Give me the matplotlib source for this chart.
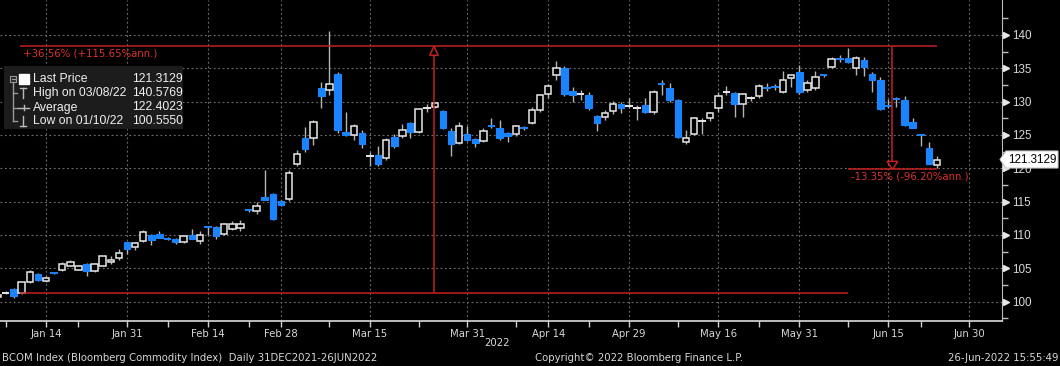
import numpy as np
import pandas as pd
import matplotlib
matplotlib.use('Agg')
import matplotlib.pyplot as plt
from matplotlib.patches import Rectangle, Polygon
from matplotlib.lines import Line2D
from matplotlib.transforms import Affine2D, blended_transform_factory
from matplotlib import font_manager

# ---------------- data ----------------
holidays = ['2022-01-17', '2022-02-21', '2022-04-15', '2022-05-30', '2022-06-20']
dates = pd.bdate_range('2022-01-06', '2022-06-24', freq='C', holidays=holidays)
future_dates = pd.bdate_range('2022-06-27', '2022-06-30')

opens = [100.7, 101.3, 101.9, 101.3, 102.9, 104.1, 103.15,
         104.35, 104.8, 105.4, 104.8, 105.6, 104.6, 105.4, 105.9, 106.6, 108.9,
         108.2, 109.1, 110.0, 110.2, 109.5, 109.45, 108.9, 110.0, 109.1, 111.25, 111.2, 110.15, 110.9, 111.1,
         113.75, 113.6, 115.7, 116.1, 115.1,
         115.4, 120.7, 124.5, 124.6, 132.1, 131.7, 134.1, 125.4, 125.0, 125.3, 121.7, 122.0, 121.5, 124.7,
         124.9, 126.8, 125.5, 129.0, 129.2, 128.6, 125.6, 123.8, 125.1,
         124.4, 124.1, 126.4, 126.0, 125.3, 125.1, 126.05, 126.8, 128.7, 131.1, 134.0, 135.1, 131.6, 131.1,
         131.0, 127.8, 127.7, 128.6, 129.7, 129.35,
         128.95, 129.5, 128.4, 132.7, 132.1, 130.2, 124.0, 125.2, 127.0, 127.5, 129.1, 131.4, 131.3, 129.6,
         130.45, 130.8, 132.05, 132.25, 131.5, 133.6, 134.5,
         131.7, 132.0, 134.05, 135.2, 136.45, 136.6, 135.0, 136.2, 134.2, 133.2, 129.45, 130.45, 130.2,
         127.0, 125.0, 123.0, 120.55]
highs = [101.2, 101.6, 102.0, 103.0, 104.7, 104.3, 103.9,
         104.5, 106.0, 106.3, 105.5, 105.8, 105.8, 106.9, 106.9, 107.9, 109.0,
         109.0, 110.8, 110.1, 110.6, 109.7, 109.5, 109.9, 110.9, 110.6, 111.3, 111.3, 111.8, 112.1, 112.3,
         113.9, 114.9, 119.7, 116.3, 115.3,
         119.8, 122.8, 126.2, 127.2, 132.9, 140.5769, 134.4, 128.5, 126.7, 125.8, 122.5, 123.4, 124.5, 125.2,
         126.7, 127.0, 129.0, 129.7, 130.0, 128.7, 126.1, 126.9, 126.3,
         124.6, 126.1, 127.6, 127.2, 125.5, 126.5, 126.4, 129.2, 131.2, 132.6, 136.1, 135.3, 132.2, 131.7,
         131.5, 128.0, 128.8, 130.1, 130.0, 130.6,
         129.5, 130.6, 131.7, 133.3, 132.8, 130.4, 125.8, 127.7, 127.6, 128.5, 131.5, 132.3, 131.5, 131.3,
         130.9, 132.6, 132.8, 132.6, 134.6, 134.2, 135.5,
         133.2, 134.6, 134.2, 136.7, 137.0, 138.0, 136.8, 136.7, 134.4, 133.7, 130.4, 130.7, 130.9,
         127.6, 125.1, 123.9, 121.8]
lows = [100.6, 101.2, 100.555, 101.2, 102.8, 103.1, 103.0,
        104.1, 104.6, 105.3, 104.7, 103.8, 104.5, 105.3, 105.7, 106.2, 107.1,
        107.8, 109.0, 108.5, 109.5, 109.3, 108.7, 108.8, 109.4, 108.7, 110.0, 109.45, 110.0, 110.8, 110.6,
        113.5, 113.1, 115.2, 112.2, 114.4,
        115.1, 120.3, 122.5, 123.5, 129.1, 131.0, 125.3, 124.8, 124.2, 123.0, 120.3, 120.3, 121.2, 123.1,
        124.6, 124.5, 125.3, 128.4, 129.0, 125.9, 121.8, 123.6, 124.1,
        123.2, 124.0, 126.0, 124.3, 124.0, 124.9, 125.7, 126.6, 128.5, 130.5, 133.3, 130.8, 130.0, 130.3,
        128.8, 125.6, 127.3, 128.1, 128.3, 129.0,
        127.3, 128.3, 128.2, 131.0, 130.0, 124.5, 123.6, 125.0, 125.1, 127.1, 128.5, 131.0, 127.7, 127.7,
        130.1, 130.6, 131.6, 131.8, 131.3, 132.2, 131.2,
        131.5, 131.8, 133.7, 135.0, 136.0, 135.8, 134.0, 133.8, 131.5, 128.8, 129.1, 129.2, 126.3,
        126.0, 123.4, 120.6, 120.0]
closes = [101.0, 101.4, 100.8, 102.9, 104.5, 103.2, 103.6,
          104.25, 105.6, 105.9, 105.4, 104.6, 105.7, 106.8, 106.2, 107.3, 107.9,
          108.8, 110.4, 109.3, 109.6, 109.4, 108.9, 109.8, 109.45, 110.0, 111.15, 109.8, 111.7, 111.6, 111.7,
          113.65, 114.4, 115.3, 112.35, 114.5,
          119.3, 122.1, 122.9, 127.0, 130.9, 132.6, 125.7, 125.0, 126.3, 123.7, 121.9, 120.6, 124.3, 123.4,
          125.7, 125.5, 128.9, 129.2, 129.8, 126.1, 123.6, 126.4, 124.3,
          123.8, 125.6, 126.2, 124.5, 124.9, 126.3, 125.95, 128.7, 131.0, 132.4, 135.0, 131.2, 131.0, 131.3,
          129.0, 126.8, 128.3, 129.7, 129.1, 129.45,
          129.05, 128.5, 131.5, 132.5, 130.2, 124.7, 124.6, 127.5, 127.2, 128.3, 130.8, 131.6, 129.6, 131.1,
          130.55, 132.3, 131.95, 132.15, 133.2, 134.0, 131.4,
          132.8, 133.7, 133.95, 136.35, 136.35, 135.9, 136.5, 135.2, 133.2, 128.9, 129.35, 130.35, 126.5,
          126.1, 124.85, 120.7, 121.3129]

tick_dates = ['2022-01-14', '2022-01-31', '2022-02-14', '2022-02-28', '2022-03-15', '2022-03-31',
              '2022-04-14', '2022-04-29', '2022-05-16', '2022-05-31', '2022-06-15', '2022-06-30']
tick_labels = ['Jan 14', 'Jan 31', 'Feb 14', 'Feb 28', 'Mar 15', 'Mar 31',
               'Apr 14', 'Apr 29', 'May 16', 'May 31', 'Jun 15', 'Jun 30']
minor_dates = ['2022-01-07', '2022-01-21', '2022-02-07', '2022-02-22', '2022-03-08', '2022-03-23',
               '2022-04-08', '2022-04-22', '2022-05-09', '2022-05-23', '2022-06-08', '2022-06-22']
y_ticks = [100, 105, 110, 115, 120, 125, 130, 135, 140]

legend_rows = [('Last Price', '121.3129'), ('High on 03/08/22', '140.5769'),
               ('Average', '122.4023'), ('Low on 01/10/22', '100.5550')]
base_level = 101.27
gain_pct = 36.56
drop_pct = 13.35
gain_text = '+36.56% (+115.65%ann.)'
drop_text = '-13.35% (-96.20%ann.)'

# ---------------- style ----------------
avail = {f.name for f in font_manager.fontManager.ttflist}
NARROW = 'Liberation Sans Narrow' if 'Liberation Sans Narrow' in avail else 'DejaVu Sans'
NSIZE = 9.3 if NARROW == 'Liberation Sans Narrow' else 7.3
REG = 'Liberation Sans' if 'Liberation Sans' in avail else 'DejaVu Sans'

BLUE = '#1a84ff'
WHITE = '#e8e8e8'
WICK = '#b4b4b4'
RED = '#c42121'
REDTXT = '#dc3232'
GRID = '#6e6e6e'
TXT = '#d8d8d8'

W_PX, H_PX = 1060, 366
fig = plt.figure(figsize=(W_PX / 100, H_PX / 100), dpi=100, facecolor='black')
ax_left, ax_right, ax_top, ax_bot = 0, 1002, 0, 321
ax = fig.add_axes([ax_left / W_PX, 1 - ax_bot / H_PX, (ax_right - ax_left) / W_PX, (ax_bot - ax_top) / H_PX])
ax.set_facecolor('black')

axis_dates = list(dates) + list(future_dates)
pos = {d: i for i, d in enumerate(axis_dates)}
x = np.arange(len(dates))

# y scale: 140 at px 35, 100 at px 301.5
ppu = (301.5 - 35) / 40.0
ax.set_ylim(100 - (ax_bot - 301.5) / ppu, 140 + (35 - ax_top) / ppu)
# x scale: Jan 14 at px 46, 8.1 px per trading day
i14 = pos[pd.Timestamp('2022-01-14')]
ax.set_xlim(i14 - 46 / 8.1, i14 + (ax_right - 46) / 8.1)

# candles
W = 0.8
for i, o, h, l, c in zip(x, opens, highs, lows, closes):
    up = c >= o
    ax.vlines(i, l, h, color=WICK, lw=1, zorder=2)
    lo, hi = min(o, c), max(o, c)
    if hi - lo < 0.25:
        ax.hlines((o + c) / 2, i - W / 2 - 0.08, i + W / 2 + 0.08, color=WHITE if up else BLUE, lw=1.4, zorder=3)
    elif up:
        ax.add_patch(Rectangle((i - W / 2, lo), W, hi - lo, facecolor='black', edgecolor=WHITE, lw=1.1, zorder=3))
    else:
        ax.add_patch(Rectangle((i - W / 2, lo), W, hi - lo, facecolor=BLUE, edgecolor=BLUE, lw=0.8, zorder=3))

# grid and axes
for s in ['top', 'left']:
    ax.spines[s].set_visible(False)
ax.spines['right'].set_color('#bdbdbd')
ax.spines['bottom'].set_color('#dcdcdc')
ax.spines['bottom'].set_linewidth(1.2)
ax.yaxis.tick_right()
ax.set_yticks(y_ticks)
ax.set_yticks(np.arange(97.5, 145, 5), minor=True)
ax.set_xticks([pos[pd.Timestamp(d)] for d in tick_dates])
ax.set_xticklabels(tick_labels)
ax.set_xticks([pos[pd.Timestamp(d)] for d in minor_dates], minor=True)
ax.tick_params(axis='y', which='major', length=0, pad=7.5, labelsize=8.4, labelcolor=TXT)
for t in ax.get_yticklabels():
    t.set_fontfamily(REG)
ax.tick_params(axis='y', which='minor', length=4, color='#bdbdbd', width=1)
ax.tick_params(axis='x', which='both', length=4, color='#cfcfcf', width=1, direction='out')
ax.tick_params(axis='x', which='major', labelsize=NSIZE, labelcolor=TXT, pad=1.5)
for t in ax.get_xticklabels():
    t.set_fontfamily(NARROW)
ax.grid(True, which='major', color=GRID, ls=(0, (1.6, 2.4)), lw=0.8, zorder=0)

# triangle tick markers on y axis
bt = blended_transform_factory(ax.transAxes, ax.transData)
ax.plot(np.full(len(y_ticks), 1 + 3.5 / (ax_right - ax_left)), y_ticks, transform=bt, ls='none',
        marker='>', markersize=4.5, color='#e6e6e6', mec='#e6e6e6', clip_on=False, zorder=5)

# red annotations
top_level = base_level * (1 + gain_pct / 100)
bot_level = top_level * (1 - drop_pct / 100)
va1 = pos[pd.Timestamp('2022-03-25')] - 0.1
va2 = pos[pd.Timestamp('2022-06-15')] + 0.5
i_start = pos[pd.Timestamp('2022-01-11')] - 0.15
i_jun8 = pos[pd.Timestamp('2022-06-08')]
i_last = len(dates) - 1
ax.hlines(base_level, i_start, i_jun8, color=RED, lw=1.1, zorder=4)
ax.hlines(top_level, i_start, i_last, color=RED, lw=1.1, zorder=4)
ax.hlines(bot_level, i_jun8, i_last, color=RED, lw=1.1, zorder=4)
th1 = 9 / ppu
ax.vlines(va1, base_level, top_level - th1, color=RED, lw=1.1, zorder=4)
ax.add_patch(Polygon([(va1 - 0.52, top_level - th1), (va1 + 0.52, top_level - th1), (va1, top_level)],
                     closed=True, facecolor='black', edgecolor=RED, lw=1.1, zorder=4))
th2 = 8 / ppu
ax.vlines(va2, bot_level + th2, top_level, color=RED, lw=1.1, zorder=4)
ax.add_patch(Polygon([(va2 - 0.66, bot_level + th2), (va2 + 0.66, bot_level + th2), (va2, bot_level)],
                     closed=True, facecolor='black', edgecolor=RED, lw=1.1, zorder=4))
ax.text(i_start + 0.35, top_level - 7 / ppu, gain_text, color=REDTXT, fontsize=NSIZE, family=NARROW,
        va='center', ha='left', zorder=6)
ax.text(i_jun8 + 0.4, bot_level - 7 / ppu, drop_text, color=REDTXT, fontsize=NSIZE, family=NARROW,
        va='center', ha='left', zorder=6)

# ---------------- overlays in pixel coordinates ----------------
pix = Affine2D().scale(1, -1).translate(0, H_PX)

# last price tag
last = closes[-1]
ly = H_PX - ax.transData.transform((0, last))[1]
tag = Polygon([(1000, ly), (1006, ly - 8.5), (1058, ly - 8.5), (1058, ly + 8.5), (1006, ly + 8.5)],
              closed=True, facecolor='white', edgecolor='#cccccc', lw=0.8, transform=pix, zorder=6)
fig.add_artist(tag)
fig.text(1008, ly + 0.5, f'{last:.4f}', transform=pix, color='black', fontsize=8.4, family=REG,
         va='center', ha='left', zorder=7)

# legend box
fig.add_artist(Rectangle((4, 66), 179, 63, transform=pix, facecolor='#1c1c1c', edgecolor='none', zorder=5))
rows_y = [79, 93, 107.5, 121]
for (name, val), ry in zip(legend_rows, rows_y):
    fig.text(33, ry, name, transform=pix, color='#f0f0f0', fontsize=8.8, family=REG, va='center', ha='left', zorder=7)
    fig.text(132, ry, val, transform=pix, color='#f0f0f0', fontsize=8.8, family=REG, va='center', ha='left', zorder=7)
LC = '#9a9a9a'


def pl(xs, ys, c=LC, lw=1.0):
    fig.add_artist(Line2D(xs, ys, transform=pix, color=c, lw=lw, zorder=6))


# collapse box
fig.add_artist(Rectangle((10, 76), 6, 6, transform=pix, facecolor='none', edgecolor=LC, lw=0.8, zorder=6))
pl([11.5, 14.5], [79, 79])
pl([13, 13], [82, 121])
for ry in rows_y[1:]:
    pl([13, 17], [ry, ry])
# white square for last price
fig.add_artist(Rectangle((19, 73.5), 10, 10, transform=pix, facecolor='white', edgecolor='white', zorder=6))
# high icon
pl([20, 26], [88, 88], '#bbbbbb'); pl([23, 23], [88, 98], '#bbbbbb')
# average icon
pl([18, 29], [107.5, 107.5], '#bbbbbb'); pl([23.5, 23.5], [105, 110], '#bbbbbb')
# low icon
pl([23, 23], [116, 126], '#bbbbbb'); pl([20, 26], [126, 126], '#bbbbbb')

# footer texts
fig.text(497, 343, '2022', transform=pix, color=TXT, fontsize=NSIZE, family=NARROW, ha='center', va='center')
fig.text(2, 358, 'BCOM Index (Bloomberg Commodity Index)  Daily 31DEC2021-26JUN2022', transform=pix,
         color=TXT, fontsize=NSIZE, family=NARROW, ha='left', va='center')
fig.text(639, 358, 'Copyright\u00a9 2022 Bloomberg Finance L.P.', transform=pix, color=TXT, fontsize=NSIZE,
         family=NARROW, ha='center', va='center')
fig.text(1058, 358, '26-Jun-2022 15:55:49', transform=pix, color=TXT, fontsize=NSIZE, family=NARROW,
         ha='right', va='center')

fig.savefig('out.png', dpi=100, facecolor='black')
